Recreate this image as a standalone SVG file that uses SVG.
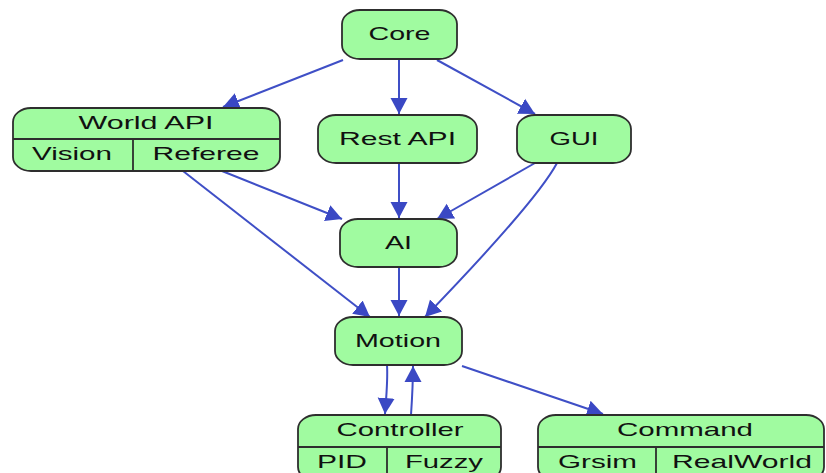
<svg xmlns="http://www.w3.org/2000/svg" width="826" height="473" viewBox="0 0 826 473">
<defs>
<style>
.box{fill:#a0fba0;stroke:#2e2e2e;stroke-width:1.8}
.div{stroke:#2e2e2e;stroke-width:1.8;fill:none}
.edge{fill:none;stroke:#3f4fc6;stroke-width:2}
text{font-family:"Liberation Sans",Arial,sans-serif;font-size:19px;fill:#111;text-anchor:middle}
</style>
<marker id="arr" markerUnits="userSpaceOnUse" markerWidth="18" markerHeight="18" refX="16" refY="9" orient="auto">
<path d="M0,0.5 L16,9 L0,17.5 z" fill="#3a48c4"/>
</marker>
</defs>
<rect width="826" height="473" fill="#fff"/>
<g id="edges">
<path class="edge" marker-end="url(#arr)" d="M343,60 L223,107"/>
<path class="edge" marker-end="url(#arr)" d="M399,59 L399,114"/>
<path class="edge" marker-end="url(#arr)" d="M437,60 L535,114"/>
<path class="edge" marker-end="url(#arr)" d="M222,171 L342,219"/>
<path class="edge" marker-end="url(#arr)" d="M183,171 L370,317"/>
<path class="edge" marker-end="url(#arr)" d="M399,163 L399,218"/>
<path class="edge" marker-end="url(#arr)" d="M535,163 L437,219"/>
<path class="edge" marker-end="url(#arr)" d="M557,163 C540,195 480,260 425,317"/>
<path class="edge" marker-end="url(#arr)" d="M399,268 L399,316"/>
<path class="edge" marker-end="url(#arr)" d="M387,365 C388,380 386,400 385,414"/>
<path class="edge" marker-end="url(#arr)" d="M411,415 C412,400 413,382 413,366"/>
<path class="edge" marker-end="url(#arr)" d="M462,366 L603,414"/>
</g>
<g id="core">
<rect class="box" x="342" y="10" width="115" height="49" rx="18" ry="14"/>
<text x="399.5" y="40" textLength="62" lengthAdjust="spacingAndGlyphs">Core</text>
</g>
<g id="worldapi">
<rect class="box" x="13" y="108" width="267" height="63" rx="18" ry="14"/>
<path class="div" d="M13,139 H280 M133,139 V171"/>
<text x="146" y="129" textLength="135" lengthAdjust="spacingAndGlyphs">World API</text>
<text x="72" y="160" textLength="80" lengthAdjust="spacingAndGlyphs">Vision</text>
<text x="206" y="160" textLength="107" lengthAdjust="spacingAndGlyphs">Referee</text>
</g>
<g id="restapi">
<rect class="box" x="318" y="115" width="159" height="48" rx="18" ry="14"/>
<text x="397.5" y="144.5" textLength="117" lengthAdjust="spacingAndGlyphs">Rest API</text>
</g>
<g id="gui">
<rect class="box" x="517" y="115" width="114" height="48" rx="18" ry="14"/>
<text x="574" y="144.5" textLength="49" lengthAdjust="spacingAndGlyphs">GUI</text>
</g>
<g id="ai">
<rect class="box" x="340" y="219" width="117" height="48" rx="18" ry="14"/>
<text x="398.5" y="249" textLength="27" lengthAdjust="spacingAndGlyphs">AI</text>
</g>
<g id="motion">
<rect class="box" x="335" y="317" width="127" height="48" rx="18" ry="14"/>
<text x="398" y="347" textLength="86" lengthAdjust="spacingAndGlyphs">Motion</text>
</g>
<g id="controller">
<rect class="box" x="298" y="415" width="203" height="66" rx="18" ry="14"/>
<path class="div" d="M298,447 H501 M387,447 V481"/>
<text x="400" y="436" textLength="127" lengthAdjust="spacingAndGlyphs">Controller</text>
<text x="342" y="467.5" textLength="50" lengthAdjust="spacingAndGlyphs">PID</text>
<text x="444" y="467.5" textLength="78" lengthAdjust="spacingAndGlyphs">Fuzzy</text>
</g>
<g id="command">
<rect class="box" x="538" y="415" width="286" height="66" rx="18" ry="14"/>
<path class="div" d="M538,447 H824 M656,447 V481"/>
<text x="685" y="436" textLength="136" lengthAdjust="spacingAndGlyphs">Command</text>
<text x="597.5" y="467.5" textLength="79" lengthAdjust="spacingAndGlyphs">Grsim</text>
<text x="742" y="467.5" textLength="140" lengthAdjust="spacingAndGlyphs">RealWorld</text>
</g>
</svg>
